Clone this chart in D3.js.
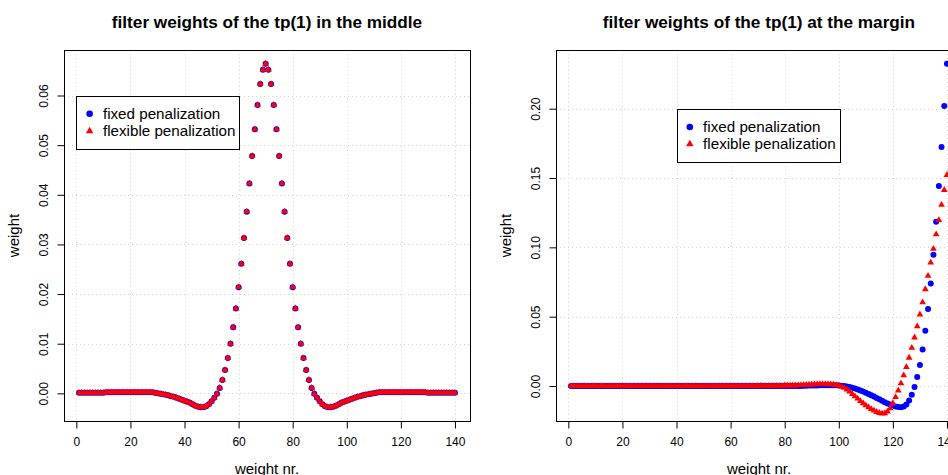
<!DOCTYPE html>
<html>
<head>
<meta charset="utf-8">
<script src="https://cdn.jsdelivr.net/npm/d3@7"></script>
<style>
  html, body { margin: 0; padding: 0; background: #fff; }
  svg { display: block; }
  text { font-family: "Liberation Sans", Arial, Helvetica, sans-serif; fill: #000; }
</style>
</head>
<body>
<svg id="chart" width="948" height="475"></svg>
<script>
// ---------- data ----------
const weightNr = d3.range(1, 141); // weight numbers 1..140

const xTicks = [0, 20, 40, 60, 80, 100, 120, 140];
const yTicksMiddle = [0.00, 0.01, 0.02, 0.03, 0.04, 0.05, 0.06];
const yTicksMargin = [0.00, 0.05, 0.10, 0.15, 0.20];

const seriesNames = ["fixed penalization", "flexible penalization"];
const titles = ["filter weights of the tp(1) in the middle", "filter weights of the tp(1) at the margin"];
const xLabel = "weight nr.";
const yLabel = "weight";

// middle weights (fixed penalization), x = 1..140
const middleFixed = [
  0.0001, 0.0001, 0.0001, 0.0001, 0.0001, 0.0001, 0.0001, 0.0001, 0.0001, 0.0001,
  0.0002, 0.0002, 0.0002, 0.0002, 0.0002, 0.0002, 0.0002, 0.0002, 0.0002, 0.0002,
  0.0002, 0.0002, 0.0002, 0.0002, 0.0002, 0.0002, 0.0002, 0.0002, 0.0001, 0.0000,
  -0.0001, -0.0002, -0.0003, -0.0004, -0.0006, -0.0007, -0.0009, -0.0011, -0.0013, -0.0015,
  -0.0017, -0.0019, -0.0022, -0.0025, -0.0027, -0.0028, -0.0028, -0.0026, -0.0022, -0.0016,
  -0.0009, -0.0001, 0.0011, 0.0027, 0.0047, 0.0071, 0.0100, 0.0133, 0.0171, 0.0214,
  0.0261, 0.0313, 0.0366, 0.0423, 0.0478, 0.0532, 0.0581, 0.0623, 0.0652, 0.0664,
  0.0652, 0.0623, 0.0581, 0.0532, 0.0478, 0.0423, 0.0366, 0.0313, 0.0261, 0.0214,
  0.0171, 0.0133, 0.0100, 0.0071, 0.0047, 0.0027, 0.0011, -0.0001, -0.0009, -0.0016,
  -0.0022, -0.0026, -0.0028, -0.0028, -0.0027, -0.0025, -0.0022, -0.0019, -0.0017, -0.0015,
  -0.0013, -0.0011, -0.0009, -0.0007, -0.0006, -0.0004, -0.0003, -0.0002, -0.0001, 0.0000,
  0.0001, 0.0002, 0.0002, 0.0002, 0.0002, 0.0002, 0.0002, 0.0002, 0.0002, 0.0002,
  0.0002, 0.0002, 0.0002, 0.0002, 0.0002, 0.0002, 0.0002, 0.0002, 0.0002, 0.0001,
  0.0001, 0.0001, 0.0001, 0.0001, 0.0001, 0.0001, 0.0001, 0.0001, 0.0001, 0.0001
];
// middle weights (flexible penalization) – indistinguishable from fixed in the picture
const middleFlexible = [
  0.0001, 0.0001, 0.0001, 0.0001, 0.0001, 0.0001, 0.0001, 0.0001, 0.0001, 0.0001,
  0.0002, 0.0002, 0.0002, 0.0002, 0.0002, 0.0002, 0.0002, 0.0002, 0.0002, 0.0002,
  0.0002, 0.0002, 0.0002, 0.0002, 0.0002, 0.0002, 0.0002, 0.0002, 0.0001, 0.0000,
  -0.0001, -0.0002, -0.0003, -0.0004, -0.0006, -0.0007, -0.0009, -0.0011, -0.0013, -0.0015,
  -0.0017, -0.0019, -0.0022, -0.0025, -0.0027, -0.0028, -0.0028, -0.0026, -0.0022, -0.0016,
  -0.0009, -0.0001, 0.0011, 0.0027, 0.0047, 0.0071, 0.0100, 0.0133, 0.0171, 0.0214,
  0.0261, 0.0313, 0.0366, 0.0423, 0.0478, 0.0532, 0.0581, 0.0623, 0.0652, 0.0664,
  0.0652, 0.0623, 0.0581, 0.0532, 0.0478, 0.0423, 0.0366, 0.0313, 0.0261, 0.0214,
  0.0171, 0.0133, 0.0100, 0.0071, 0.0047, 0.0027, 0.0011, -0.0001, -0.0009, -0.0016,
  -0.0022, -0.0026, -0.0028, -0.0028, -0.0027, -0.0025, -0.0022, -0.0019, -0.0017, -0.0015,
  -0.0013, -0.0011, -0.0009, -0.0007, -0.0006, -0.0004, -0.0003, -0.0002, -0.0001, 0.0000,
  0.0001, 0.0002, 0.0002, 0.0002, 0.0002, 0.0002, 0.0002, 0.0002, 0.0002, 0.0002,
  0.0002, 0.0002, 0.0002, 0.0002, 0.0002, 0.0002, 0.0002, 0.0002, 0.0002, 0.0001,
  0.0001, 0.0001, 0.0001, 0.0001, 0.0001, 0.0001, 0.0001, 0.0001, 0.0001, 0.0001
];

// margin weights (fixed penalization), x = 1..140
const marginFixed = [
  0.0000, 0.0000, 0.0000, 0.0000, 0.0000, 0.0000, 0.0000, 0.0000, 0.0000, 0.0000,
  0.0000, 0.0000, 0.0000, 0.0000, 0.0000, 0.0000, 0.0000, 0.0000, 0.0000, 0.0000,
  0.0000, 0.0000, 0.0000, 0.0000, 0.0000, 0.0000, 0.0000, 0.0000, 0.0000, 0.0000,
  0.0000, 0.0000, 0.0000, 0.0000, 0.0000, 0.0000, 0.0000, 0.0000, 0.0000, 0.0000,
  0.0000, 0.0000, 0.0000, 0.0000, 0.0000, 0.0000, 0.0000, 0.0000, 0.0000, 0.0000,
  0.0000, 0.0000, 0.0000, 0.0000, 0.0000, 0.0000, 0.0000, 0.0000, 0.0000, 0.0000,
  0.0000, 0.0000, 0.0000, 0.0000, 0.0000, 0.0000, 0.0000, 0.0000, 0.0000, 0.0000,
  0.0000, 0.0000, 0.0000, 0.0000, 0.0000, 0.0000, 0.0000, 0.0000, 0.0000, 0.0000,
  0.0000, 0.0000, 0.0000, 0.0000, 0.0001, 0.0001, 0.0002, 0.0002, 0.0003, 0.0003,
  0.0004, 0.0004, 0.0005, 0.0005, 0.0005, 0.0005, 0.0005, 0.0005, 0.0005, 0.0004,
  0.0002, 0.0000, -0.0003, -0.0007, -0.0012, -0.0018, -0.0025, -0.0032, -0.0040, -0.0048,
  -0.0057, -0.0066, -0.0076, -0.0086, -0.0096, -0.0106, -0.0116, -0.0125, -0.0134, -0.0141,
  -0.0147, -0.0151, -0.0153, -0.0148, -0.0133, -0.0104, -0.0062, -0.0007, 0.0065, 0.0152,
  0.0264, 0.0399, 0.0556, 0.0739, 0.0947, 0.1185, 0.1443, 0.1723, 0.2019, 0.2324
];
// margin weights (flexible penalization), x = 1..140
const marginFlexible = [
  0.0000, 0.0000, 0.0000, 0.0000, 0.0000, 0.0000, 0.0000, 0.0000, 0.0000, 0.0000,
  0.0000, 0.0000, 0.0000, 0.0000, 0.0000, 0.0000, 0.0000, 0.0000, 0.0000, 0.0000,
  0.0000, 0.0000, 0.0000, 0.0000, 0.0000, 0.0000, 0.0000, 0.0000, 0.0000, 0.0000,
  0.0000, 0.0000, 0.0000, 0.0000, 0.0000, 0.0000, 0.0000, 0.0000, 0.0000, 0.0000,
  0.0000, 0.0000, 0.0000, 0.0000, 0.0000, 0.0000, 0.0000, 0.0000, 0.0000, 0.0000,
  0.0000, 0.0000, 0.0000, 0.0000, 0.0000, 0.0000, 0.0000, 0.0000, 0.0000, 0.0000,
  0.0000, 0.0000, 0.0000, 0.0000, 0.0000, 0.0000, 0.0000, 0.0000, 0.0000, 0.0001,
  0.0001, 0.0001, 0.0001, 0.0001, 0.0002, 0.0002, 0.0002, 0.0002, 0.0002, 0.0004,
  0.0004, 0.0004, 0.0004, 0.0004, 0.0006, 0.0007, 0.0008, 0.0009, 0.0010, 0.0011,
  0.0012, 0.0013, 0.0014, 0.0014, 0.0014, 0.0013, 0.0012, 0.0010, 0.0007, 0.0003,
  -0.0004, -0.0013, -0.0025, -0.0040, -0.0057, -0.0074, -0.0091, -0.0108, -0.0124, -0.0139,
  -0.0153, -0.0166, -0.0177, -0.0187, -0.0194, -0.0198, -0.0196, -0.0184, -0.0160, -0.0124,
  -0.0080, -0.0032, 0.0020, 0.0077, 0.0137, 0.0204, 0.0275, 0.0350, 0.0431, 0.0516,
  0.0604, 0.0698, 0.0794, 0.0890, 0.0989, 0.1094, 0.1197, 0.1306, 0.1414, 0.1522
];

// ---------- drawing ----------
const svg = d3.select("#chart");
const COL_FIXED = "#0000FF", COL_FLEX = "#FF0000";
const R = 2.5; // R-style symbol radius

function trianglePath(cx, cy, r) {
  const top = 1.555 * r, base = 0.778 * r, hw = 1.347 * r;
  return `M${cx},${cy - top}L${cx + hw},${cy + base}L${cx - hw},${cy + base}Z`;
}

// R-style 4% axis extension
function rRange(vals) {
  const [lo, hi] = d3.extent(vals);
  const e = (hi - lo) * 0.04;
  return [lo - e, hi + e];
}

function drawPanel(cfg) {
  const { left, right, top, bottom, fixed, flexible, yTicks, title, legendAt } = cfg;
  const g = svg.append("g");

  const x = d3.scaleLinear().domain(rRange(weightNr)).range([left, right]);
  const y = d3.scaleLinear().domain(rRange(fixed)).range([bottom, top]);

  // grid
  const grid = g.append("g").attr("stroke", "#D3D3D3").attr("stroke-width", 1)
    .attr("stroke-dasharray", "1,3").attr("fill", "none");
  grid.selectAll("line.v").data(xTicks).join("line")
    .attr("x1", d => Math.round(x(d)) + 0.5).attr("x2", d => Math.round(x(d)) + 0.5)
    .attr("y1", top).attr("y2", bottom);
  grid.selectAll("line.h").data(yTicks).join("line")
    .attr("y1", d => Math.round(y(d)) + 0.5).attr("y2", d => Math.round(y(d)) + 0.5)
    .attr("x1", left).attr("x2", right);

  // points: fixed (blue circles) then flexible (red triangles)
  g.append("g").selectAll("circle").data(fixed).join("circle")
    .attr("cx", (d, i) => x(weightNr[i])).attr("cy", d => y(d))
    .attr("r", R + 0.5).attr("fill", COL_FIXED);
  g.append("g").selectAll("path").data(flexible).join("path")
    .attr("d", (d, i) => trianglePath(x(weightNr[i]), y(d), R))
    .attr("fill", COL_FLEX);

  // box
  g.append("rect").attr("x", left + 0.5).attr("y", top + 0.5)
    .attr("width", right - left).attr("height", bottom - top)
    .attr("fill", "none").attr("stroke", "#000").attr("stroke-width", 1);

  // x axis
  const xAxis = g.append("g").attr("transform", `translate(0,${bottom + 0.5})`)
    .call(d3.axisBottom(x).tickValues(xTicks).tickSize(7).tickPadding(9).tickFormat(d3.format("d")));
  xAxis.select(".domain").remove();
  xAxis.selectAll("text").attr("font-size", 12).attr("fill", "#000")
    .style("font-family", "'Liberation Sans', Arial, sans-serif");
  xAxis.selectAll("line").attr("stroke", "#000");

  // y axis
  const yAxis = g.append("g").attr("transform", `translate(${left + 0.5},0)`)
    .call(d3.axisLeft(y).tickValues(yTicks).tickSize(7).tickFormat(d3.format(".2f")));
  yAxis.select(".domain").remove();
  yAxis.selectAll("line").attr("stroke", "#000");
  yAxis.selectAll("text")
    .attr("x", null).attr("dy", null)
    .attr("text-anchor", "middle")
    .attr("font-size", 12).attr("fill", "#000")
    .style("font-family", "'Liberation Sans', Arial, sans-serif")
    .attr("transform", `translate(${-16.5},0) rotate(-90)`);

  // titles
  g.append("text").attr("x", (left + right) / 2).attr("y", 28)
    .attr("text-anchor", "middle").attr("font-size", 17.2).attr("font-weight", "bold")
    .text(title);
  g.append("text").attr("x", (left + right) / 2).attr("y", 473.5)
    .attr("text-anchor", "middle").attr("font-size", 15).text(xLabel);
  g.append("text").attr("transform", `translate(${left - 45},${(top + bottom) / 2}) rotate(-90)`)
    .attr("text-anchor", "middle").attr("font-size", 15).text(yLabel);

  // legend
  const lx = x(legendAt[0]), ly = y(legendAt[1]);
  const lg = g.append("g");
  const box = lg.append("rect").attr("x", Math.round(lx) + 0.5).attr("y", Math.round(ly) + 0.5)
    .attr("height", 53).attr("fill", "#fff").attr("stroke", "#000").attr("stroke-width", 1);
  lg.append("circle").attr("cx", lx + 13.3).attr("cy", ly + 18.3).attr("r", R + 0.8).attr("fill", COL_FIXED);
  lg.append("path").attr("d", trianglePath(lx + 13.3, ly + 35.5, R + 0.3)).attr("fill", COL_FLEX);
  const t1 = lg.append("text").attr("x", lx + 26.6).attr("y", ly + 18.3).attr("dy", "0.35em")
    .attr("font-size", 15.2).text(seriesNames[0]);
  const t2 = lg.append("text").attr("x", lx + 26.6).attr("y", ly + 35.3).attr("dy", "0.35em")
    .attr("font-size", 15.2).text(seriesNames[1]);
  const tw = Math.max(t1.node().getComputedTextLength(), t2.node().getComputedTextLength());
  box.attr("width", Math.round(26.6 + tw + 4));
}

drawPanel({
  left: 64, right: 470, top: 50, bottom: 421,
  fixed: middleFixed, flexible: middleFlexible,
  yTicks: yTicksMiddle, title: titles[0], legendAt: [0, 0.06]
});
drawPanel({
  left: 556, right: 962, top: 50, bottom: 421,
  fixed: marginFixed, flexible: marginFlexible,
  yTicks: yTicksMargin, title: titles[1], legendAt: [40, 0.20]
});
</script>
</body>
</html>
